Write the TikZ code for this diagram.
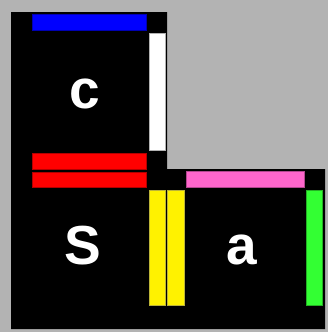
\documentclass[tikz,border=0pt]{standalone}
\usepackage{fontspec}
\setmainfont{Liberation Sans}
\definecolor{bggray}{HTML}{B3B3B3}
\definecolor{pinkbar}{HTML}{FF66CC}
\definecolor{greenbar}{HTML}{33FF33}
\tikzset{
  bar/.style={fill=#1, draw=#1!70!black, line width=0.5pt},
  lbl/.style={text=white, font=\fontsize{55}{60}\selectfont\bfseries, inner sep=0pt, anchor=center}
}
\begin{document}
\begin{tikzpicture}[x=1pt,y=-1pt]
\useasboundingbox (0,0) rectangle (328,332);
\fill[bggray] (0,0) rectangle (328,332);
\fill[black] (11,12) -- (167,12) -- (167,169) -- (325,169) -- (325,329) -- (11,329) -- cycle;
% bars
\filldraw[bar=blue] (32,14.7) rectangle (146.7,30.7);
\filldraw[bar=white] (149,33.3) rectangle (165.3,150.3);
\filldraw[bar=red] (32,153.3) rectangle (146.7,169.3);
\filldraw[bar=red] (32,172) rectangle (146.7,187.7);
\filldraw[bar=pinkbar] (186.3,171.7) rectangle (304,187.7);
\filldraw[bar=yellow] (149,190.3) rectangle (165,305.3);
\filldraw[bar=yellow] (167.7,190.3) rectangle (184,305.3);
\filldraw[bar=greenbar] (306.3,190.3) rectangle (322.7,305.3);
% labels
\node[lbl] (c) at (85,94) {c};
\node[lbl] (s) at (83,246) {S};
\node[lbl] (a) at (242,250) {a};
\end{tikzpicture}
\end{document}
